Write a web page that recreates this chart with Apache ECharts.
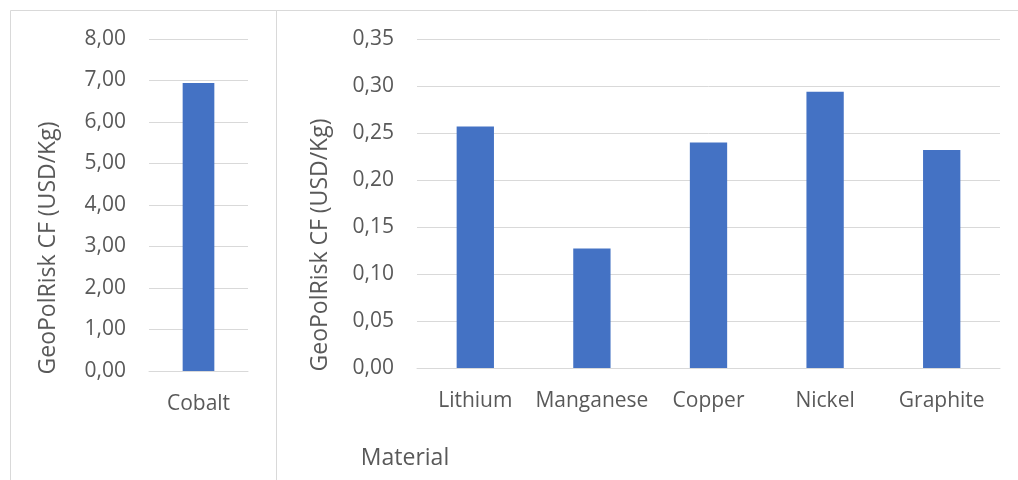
<!DOCTYPE html>
<html>
<head>
<meta charset="utf-8">
<script src="https://cdn.jsdelivr.net/npm/echarts@6/dist/echarts.min.js"></script>
<style>
  html, body { margin: 0; padding: 0; background: #ffffff; }
  #chart { width: 1018px; height: 480px; }
</style>
</head>
<body>
<div id="chart"></div>
<script>
// Data
const leftCategories = ['Cobalt'];
const leftValues = [6.94];
const rightCategories = ['Lithium', 'Manganese', 'Copper', 'Nickel', 'Graphite'];
const rightValues = [0.257, 0.127, 0.240, 0.294, 0.232];
const yAxisTitle = 'GeoPolRisk CF (USD/Kg)';
const xAxisTitle = 'Material';

const FONT = '"Open Sans", "Noto Sans", sans-serif';
const TEXT = '#595959';
const GRID = '#d9d9d9';
const BAR = '#4472C4';
const fmt = v => v.toFixed(2).replace('.', ',');

const chart = echarts.init(document.getElementById('chart'), null, { renderer: 'canvas' });

const commonX = {
  type: 'category',
  axisTick: { show: false },
  axisLine: { lineStyle: { color: GRID, width: 1 } },
  axisLabel: { color: TEXT, fontFamily: FONT, fontSize: 21, margin: 23, interval: 0 }
};
const commonY = {
  type: 'value',
  min: 0,
  axisLine: { show: false },
  axisTick: { show: false },
  splitLine: { lineStyle: { color: GRID, width: 1 } },
  axisLabel: { color: TEXT, fontFamily: FONT, fontSize: 21, margin: 23, formatter: fmt }
};

chart.setOption({
  animation: false,
  backgroundColor: '#ffffff',
  grid: [
    { left: 149, right: 770, top: 39, bottom: 109 },
    { left: 417, right: 18, top: 39, bottom: 112 }
  ],
  xAxis: [
    Object.assign({}, commonX, { gridIndex: 0, data: leftCategories }),
    Object.assign({}, commonX, { gridIndex: 1, data: rightCategories })
  ],
  yAxis: [
    Object.assign({}, commonY, { gridIndex: 0, max: 8, interval: 1 }),
    Object.assign({}, commonY, { gridIndex: 1, max: 0.35, interval: 0.05 })
  ],
  series: [
    { type: 'bar', xAxisIndex: 0, yAxisIndex: 0, data: leftValues, barWidth: '32%',
      itemStyle: { color: BAR } },
    { type: 'bar', xAxisIndex: 1, yAxisIndex: 1, data: rightValues, barWidth: '32%',
      itemStyle: { color: BAR } }
  ],
  graphic: [
    { type: 'rect', shape: { x: 10.5, y: 10.5, width: 266, height: 480 },
      style: { fill: 'none', stroke: GRID, lineWidth: 1 }, silent: true },
    { type: 'rect', shape: { x: 276.5, y: 10.5, width: 800, height: 480 },
      style: { fill: 'none', stroke: GRID, lineWidth: 1 }, silent: true },
    { type: 'text', x: 48, y: 248, rotation: Math.PI / 2,
      style: { text: yAxisTitle, fill: TEXT, font: '23px ' + FONT, textAlign: 'center', textVerticalAlign: 'middle' } },
    { type: 'text', x: 320, y: 245, rotation: Math.PI / 2,
      style: { text: yAxisTitle, fill: TEXT, font: '23px ' + FONT, textAlign: 'center', textVerticalAlign: 'middle' } },
    { type: 'text', x: 405, y: 458,
      style: { text: xAxisTitle, fill: TEXT, font: '23px ' + FONT, textAlign: 'center', textVerticalAlign: 'middle' } }
  ]
});
</script>
</body>
</html>
